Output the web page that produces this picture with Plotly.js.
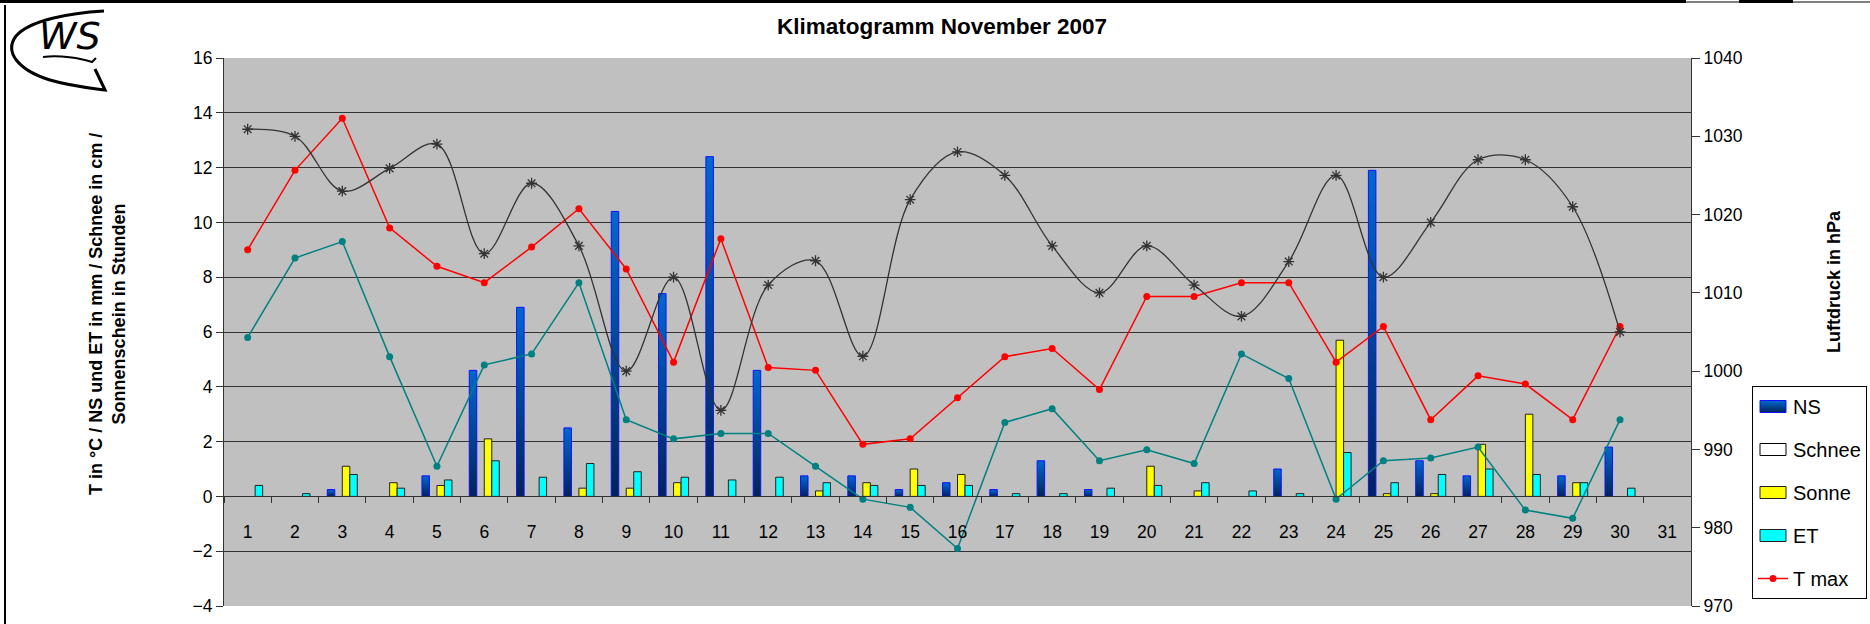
<!DOCTYPE html>
<html>
<head>
<meta charset="utf-8">
<script src="https://cdn.plot.ly/plotly-3.0.1.min.js"></script>
<style>html,body{margin:0;padding:0;background:#fff;}#chart{width:1870px;height:624px;}</style>
</head>
<body>
<div id="chart"></div>
<script>
// ---- data ----
const days = ['1','2','3','4','5','6','7','8','9','10','11','12','13','14','15','16','17','18','19','20','21','22','23','24','25','26','27','28','29','30','31'];
const ns     = [0,0,0.25,0,0.75,4.6,6.9,2.5,10.4,7.4,12.4,4.6,0.75,0.75,0.25,0.5,0.25,1.3,0.25,0,0,0,1.0,0,11.9,1.3,0.75,0,0.75,1.8,null];
const schnee = [0,0,0,0,0,0,0,0,0,0,0,0,0,0,0,0,0,0,0,0,0,0,0,0,0,0,0,0,0,0,null];
const sonne  = [0,0,1.1,0.5,0.4,2.1,0,0.3,0.3,0.5,0,0,0.2,0.5,1.0,0.8,0,0,0,1.1,0.2,0,0,5.7,0.1,0.1,1.9,3.0,0.5,0,null];
const et     = [0.4,0.1,0.8,0.3,0.6,1.3,0.7,1.2,0.9,0.7,0.6,0.7,0.5,0.4,0.4,0.4,0.1,0.1,0.3,0.4,0.5,0.2,0.1,1.6,0.5,0.8,1.0,0.8,0.5,0.3,null];
const tmax   = [9.0,11.9,13.8,9.8,8.4,7.8,9.1,10.5,8.3,4.9,9.4,4.7,4.6,1.9,2.1,3.6,5.1,5.4,3.9,7.3,7.3,7.8,7.8,4.9,6.2,2.8,4.4,4.1,2.8,6.2,null];
const tmin   = [5.8,8.7,9.3,5.1,1.1,4.8,5.2,7.8,2.8,2.1,2.3,2.3,1.1,-0.1,-0.4,-1.9,2.7,3.2,1.3,1.7,1.2,5.2,4.3,-0.1,1.3,1.4,1.8,-0.5,-0.8,2.8,null];
const druck  = [1030.9,1030.0,1023.0,1025.9,1029.0,1015.0,1024.0,1016.0,1000.0,1012.0,995.0,1011.0,1014.1,1001.9,1021.9,1028.0,1025.0,1016.0,1010.0,1016.0,1011.0,1007.0,1014.0,1025.0,1012.0,1019.0,1027.0,1027.0,1021.0,1005.0,null];

// zero-height bars are not drawn (no outline on the axis)
const noZero = arr => arr.map(v => (v === 0 ? null : v));

// ---- geometry helpers (decoration only) ----
const L = 224, R = 1691, T = 58, B = 606;
const PX = x => (x - L) / (R - L);
const PY = y => (B - y) / (B - T);
const P = (x, y) => PX(x).toFixed(5) + ',' + PY(y).toFixed(5);
const rectPx = (x0, y0, x1, y1, c) => ({type:'rect', xref:'paper', yref:'paper', x0:PX(x0), x1:PX(x1), y0:PY(y0), y1:PY(y1), fillcolor:c, line:{width:0}, layer:'above'});

const FONT = '"Liberation Sans", Arial, sans-serif';

const traces = [
  {type:'bar', name:'NS', x:days, y:noZero(ns), legendgroup:'g1',
   marker:{color:'#0050B0', line:{color:'#1010FF', width:1}}},
  {type:'bar', name:'Schnee', x:days, y:noZero(schnee), legendgroup:'g2',
   marker:{color:'#FFFFFF', line:{color:'#000000', width:1}}},
  {type:'bar', name:'Sonne', x:days, y:noZero(sonne), legendgroup:'g3',
   marker:{color:'#FFFF00', line:{color:'#222222', width:1}}},
  {type:'bar', name:'ET', x:days, y:noZero(et), legendgroup:'g4',
   marker:{color:'#00FFFF', line:{color:'#222222', width:1}}},
  {type:'scatter', mode:'lines+markers', name:'T max', x:days, y:tmax, legendgroup:'g5',
   line:{color:'#FF0000', width:1.5}, marker:{color:'#FF0000', size:7}},
  {type:'scatter', mode:'lines+markers', name:'T min', x:days, y:tmin, showlegend:false,
   line:{color:'#008080', width:1.5}, marker:{color:'#008080', size:7}},
  {type:'scatter', mode:'lines+markers', name:'Luftdruck', x:days, y:druck, yaxis:'y2', showlegend:false,
   line:{color:'#333333', width:1.3, shape:'spline', smoothing:1},
   marker:{symbol:'asterisk-open', size:9, color:'#333333', line:{color:'#333333', width:1.3}}}
];

const logoSwoosh = 'M ' + P(104,11) + ' C ' + P(70,13) + ' ' + P(30,20) + ' ' + P(16,36) +
                   ' C ' + P(4,52) + ' ' + P(18,70) + ' ' + P(50,80) +
                   ' C ' + P(70,86) + ' ' + P(90,88) + ' ' + P(105,90) +
                   ' L ' + P(95,69);
const logoUnder = 'M ' + P(43,57) + ' C ' + P(60,55) + ' ' + P(80,58) + ' ' + P(92,62) + ' L ' + P(96,58);

const layout = {
  width:1870, height:624,
  margin:{l:L, r:1870-R, t:T, b:624-B, pad:0, autoexpand:false},
  paper_bgcolor:'#FFFFFF', plot_bgcolor:'#C0C0C0',
  font:{family:FONT, color:'#000000', size:17.5},
  title:{text:'<b>Klimatogramm November 2007</b>', font:{family:FONT, size:22.5, color:'#000'},
         xref:'container', x:942/1870, xanchor:'center', yref:'container', y:1-26/624, yanchor:'middle',
         automargin:false},
  barmode:'group', bargap:0.366, bargroupgap:0,
  showlegend:true,
  xaxis:{type:'category', categoryorder:'array', categoryarray:days, range:[-0.5,30.5],
         anchor:'free', position:0.2, showline:true, linecolor:'#333', linewidth:1,
         ticks:'outside', tickson:'boundaries', ticklen:6, tickcolor:'#333',
         showgrid:false, zeroline:false, tickfont:{size:17.5}, ticklabelstandoff:20, automargin:false},
  yaxis:{range:[-4,16], tick0:0, dtick:2, showgrid:true, gridcolor:'#333', gridwidth:1,
         zeroline:false, showline:true, linecolor:'#333', linewidth:1, automargin:false,
         ticks:'outside', ticklen:7, tickcolor:'#333', tickfont:{size:17.5}},
  yaxis2:{overlaying:'y', side:'right', anchor:'x', range:[970,1040], tick0:970, dtick:10,
          showgrid:false, zeroline:false, showline:true, linecolor:'#333', linewidth:1, automargin:false,
          ticks:'outside', ticklen:8, tickcolor:'#333', tickfont:{size:17.5}},
  legend:{x:PX(1752), xanchor:'left', y:PY(386), yanchor:'top', bgcolor:'#FFFFFF',
          bordercolor:'#000000', borderwidth:1, font:{size:20}, tracegroupgap:14, itemwidth:30},
  annotations:[
    {xref:'paper', yref:'paper', x:PX(107), y:PY(314), xanchor:'center', yanchor:'middle', showarrow:false, textangle:-90,
     text:'<b>T in °C / NS und ET in mm / Schnee in cm /<br>Sonnenschein in Stunden</b>', font:{size:18}},
    {xref:'paper', yref:'paper', x:PX(1834), y:PY(282), xanchor:'center', yanchor:'middle', showarrow:false, textangle:-90,
     text:'<b>Luftdruck in hPa</b>', font:{size:18}},
    {xref:'paper', yref:'paper', x:PX(70), y:PY(36), xanchor:'center', yanchor:'middle', showarrow:false,
     text:'WS', font:{family:'"DejaVu Sans", sans-serif', size:38, style:'italic', color:'#000'}}
  ],
  shapes:[
    rectPx(0,0,1686,3,'#000'),
    rectPx(1686,1.5,1870,2.5,'#000'),
    rectPx(1739,0,1793,3,'#000'),
    rectPx(4,5,6,624,'#000'),
    {type:'path', xref:'paper', yref:'paper', path:logoSwoosh, line:{color:'#000', width:3}, layer:'above'},
    {type:'path', xref:'paper', yref:'paper', path:logoUnder, line:{color:'#000', width:2}, layer:'above'}
  ]
};

Plotly.newPlot('chart', traces, layout, {displayModeBar:false, staticPlot:true}).then(gd => {
  // vertical colour gradient for the NS bars (style only)
  const svg = gd.querySelector('svg.main-svg');
  const NSVG = 'http://www.w3.org/2000/svg';
  let defs = svg.querySelector('defs');
  if (!defs) { defs = document.createElementNS(NSVG, 'defs'); svg.insertBefore(defs, svg.firstChild); }
  const grad = document.createElementNS(NSVG, 'linearGradient');
  grad.setAttribute('id', 'nsgrad');
  grad.setAttribute('x1', '0'); grad.setAttribute('y1', '0');
  grad.setAttribute('x2', '0'); grad.setAttribute('y2', '1');
  [['0', '#0068D0'], ['1', '#002458']].forEach(([o, c]) => {
    const s = document.createElementNS(NSVG, 'stop');
    s.setAttribute('offset', o); s.setAttribute('stop-color', c);
    grad.appendChild(s);
  });
  defs.appendChild(grad);
  const barTraces = gd.querySelectorAll('.barlayer .trace.bars');
  if (barTraces.length) {
    barTraces[0].querySelectorAll('path').forEach(p => { p.style.fill = 'url(#nsgrad)'; });
  }
  // wider rectangular legend keys for the bar series
  gd.querySelectorAll('.legend .traces').forEach((tr, i) => {
    const pts = tr.querySelectorAll('.legendpoints path.legendundefined, .legendpoints .legendbar path, .legendpoints path');
    if (i < 4) {
      pts.forEach(p => {
        p.setAttribute('d', 'M13,6H-13V-6H13Z');
        if (i === 0) p.style.fill = 'url(#nsgrad)';
      });
    }
  });
});
</script>
</body>
</html>
